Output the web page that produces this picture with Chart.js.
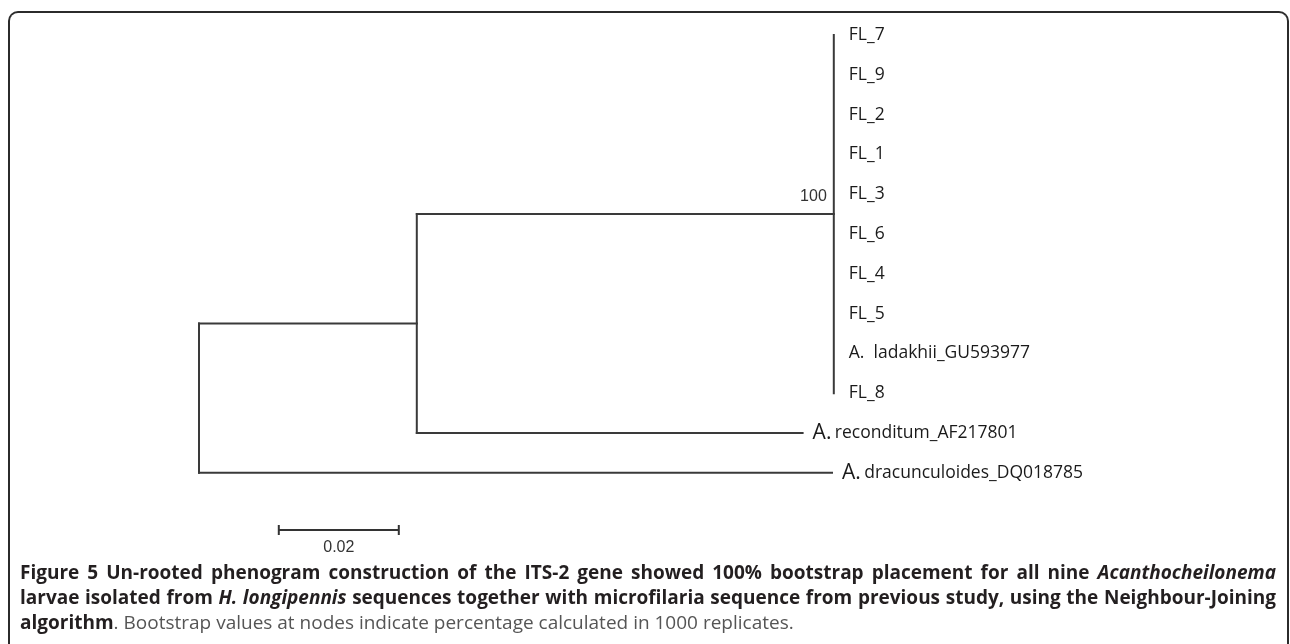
<!DOCTYPE html>
<html>
<head>
<meta charset="utf-8">
<script src="https://cdn.jsdelivr.net/npm/chart.js@4/dist/chart.umd.min.js"></script>
<style>
  html, body { margin: 0; padding: 0; background: #fff; overflow: hidden; }
  body { width: 1290px; height: 644px; position: relative; }
  #tree { position: absolute; left: 0; top: 0; }
  #frame {
    position: absolute; left: 8px; top: 11px; width: 1277px; height: 700px;
    border: 2px solid #2b2b2b; border-bottom: none; border-radius: 10px 10px 0 0;
  }
  #caption {
    position: absolute; left: 20px; top: 560px; width: 1256px;
    font-family: "Open Sans", sans-serif; font-size: 19px; line-height: 25px; color: #231f20;
  }
  #caption .ln { text-align: justify; text-align-last: justify; white-space: normal; }
  #caption .ln.last { text-align: left; text-align-last: left; }
  #caption b { font-weight: 700; }
  #caption .plain { font-weight: 400; color: #555; }
</style>
</head>
<body>
<div id="frame"></div>
<canvas id="tree" width="1290" height="644"></canvas>
<div id="caption">
  <div class="ln"><b>Figure 5 Un-rooted phenogram construction of the ITS-2 gene showed 100% bootstrap placement for all nine <i>Acanthocheilonema</i></b></div>
  <div class="ln"><b>larvae isolated from <i>H. longipennis</i> sequences together with microfilaria sequence from previous study, using the Neighbour-Joining</b></div>
  <div class="ln last"><b>algorithm</b><span class="plain">. Bootstrap values at nodes indicate percentage calculated in 1000 replicates.</span></div>
</div>
<script>
// leaves, top to bottom
const leaves = ["FL_7", "FL_9", "FL_2", "FL_1", "FL_3", "FL_6", "FL_4", "FL_5",
  "A.  ladakhii_GU593977", "FL_8", "A. reconditum_AF217801", "A. dracunculoides_DQ018785"];

// branch lengths (substitutions per site)
const rootToInner = 0.0363;
const innerToCluster = 0.0695;
const innerToReconditum = 0.0643;
const rootToDracunculoides = 0.1055;
const bootstrap = [{ node: "cluster", value: "100" }];
const scaleBarLength = 0.02;

const clusterFirst = 0, clusterLast = 9, reconditumRow = 10, dracRow = 11;
const clusterDepth = rootToInner + innerToCluster;
const clusterMid = (clusterFirst + clusterLast) / 2;
const innerMid = (clusterMid + reconditumRow) / 2;

// every branch as a two point segment
const segments = [
  [[clusterDepth, clusterFirst], [clusterDepth, clusterLast]],
  [[rootToInner, clusterMid], [clusterDepth, clusterMid]],
  [[rootToInner, reconditumRow], [rootToInner + innerToReconditum, reconditumRow]],
  [[rootToInner, clusterMid], [rootToInner, reconditumRow]],
  [[0, innerMid], [rootToInner, innerMid]],
  [[0, dracRow], [rootToDracunculoides, dracRow]],
  [[0, innerMid], [0, dracRow]],
];

const leafDepth = leaves.map((name, i) => {
  if (i <= clusterLast) return clusterDepth;
  if (i === reconditumRow) return rootToInner + innerToReconditum;
  return rootToDracunculoides;
});

const datasets = segments.map((s) => ({
  data: s.map((p) => ({ x: p[0], y: p[1] })),
  showLine: true,
  borderColor: "#3a3a3a",
  borderWidth: 2,
  borderCapStyle: "square",
  pointRadius: 0,
}));

const treeLabels = {
  id: "treeLabels",
  afterDatasetsDraw(chart) {
    const ctx = chart.ctx;
    const xs = chart.scales.x, ys = chart.scales.y;
    ctx.save();
    ctx.fillStyle = "#1a1a1a";
    ctx.textBaseline = "middle";
    ctx.textAlign = "left";
    leaves.forEach((name, i) => {
      let px = xs.getPixelForValue(leafDepth[i]) + (i <= clusterLast ? 15 : 10);
      const py = ys.getPixelForValue(i);
      if (i > clusterLast) {
        // outgroup labels have a bigger "A."
        ctx.font = '21px "Open Sans"';
        ctx.fillText("A.", px, py);
        px += ctx.measureText("A. ").width - 2;
        name = name.slice(3);
      }
      ctx.font = '17.5px "Open Sans"';
      ctx.fillText(name, px, py);
    });

    // bootstrap value
    ctx.font = '16px "Liberation Sans"';
    ctx.fillStyle = "#333";
    ctx.textAlign = "right";
    ctx.fillText(bootstrap[0].value, xs.getPixelForValue(clusterDepth) - 7, ys.getPixelForValue(clusterMid) - 18);

    // scale bar
    const bx1 = xs.getPixelForValue(0.0133);
    const bx2 = xs.getPixelForValue(0.0133 + scaleBarLength);
    const by = ys.getPixelForValue(12.44);
    ctx.strokeStyle = "#333";
    ctx.lineWidth = 2;
    ctx.beginPath();
    ctx.moveTo(bx1, by); ctx.lineTo(bx2, by);
    ctx.moveTo(bx1, by - 5); ctx.lineTo(bx1, by + 5);
    ctx.moveTo(bx2, by - 5); ctx.lineTo(bx2, by + 5);
    ctx.stroke();
    ctx.textAlign = "center";
    ctx.fillText(scaleBarLength.toFixed(2), (bx1 + bx2) / 2, by + 17);
    ctx.restore();
  },
};

const pxPerUnit = 6000, rootPx = 199;
const rowPx = 39.8, firstRowPx = 35;

new Chart(document.getElementById("tree"), {
  type: "scatter",
  data: { datasets },
  options: {
    responsive: false,
    animation: false,
    events: [],
    layout: { padding: 0 },
    plugins: { legend: { display: false }, tooltip: { enabled: false } },
    scales: {
      x: { type: "linear", display: false, min: -rootPx / pxPerUnit, max: (1290 - rootPx) / pxPerUnit },
      y: { type: "linear", display: false, reverse: true, min: -firstRowPx / rowPx, max: (644 - firstRowPx) / rowPx },
    },
  },
  plugins: [treeLabels],
});
</script>
</body>
</html>
